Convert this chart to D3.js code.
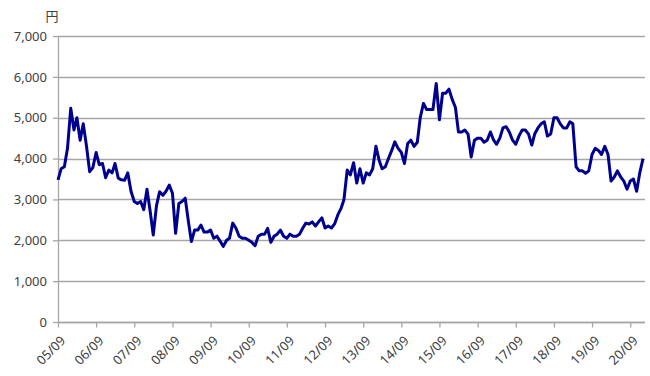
<!DOCTYPE html>
<html>
<head>
<meta charset="utf-8">
<script src="https://cdn.jsdelivr.net/npm/d3@7"></script>
<style>
html,body{margin:0;padding:0;background:#fff;}
svg{display:block;}
text{font-family:"Noto Sans","Open Sans",sans-serif;}
</style>
</head>
<body>
<svg id="chart" width="650" height="376"></svg>
<script>
// Monthly closing prices (円), starting September 2005
const prices = [
  3480,3750,3800,4250,5230,4700,5000,4450,4850,4300,3680,3780,
  4150,3850,3880,3530,3720,3650,3880,3520,3480,3470,3650,3200,
  2950,2900,2950,2750,3250,2700,2130,2850,3190,3100,3200,3350,
  3150,2170,2900,2950,3030,2450,1970,2250,2250,2370,2200,2200,
  2250,2050,2100,1980,1850,2000,2050,2420,2300,2100,2050,2050,
  2000,1950,1870,2100,2150,2150,2290,1950,2100,2150,2250,2100,
  2050,2150,2100,2100,2150,2300,2420,2400,2450,2350,2450,2550,
  2300,2350,2300,2400,2620,2780,3000,3720,3600,3900,3400,3750,
  3400,3650,3600,3750,4300,3950,3750,3800,4000,4200,4410,4250,
  4150,3880,4370,4450,4300,4400,5000,5350,5200,5200,5200,5840,
  4950,5600,5600,5700,5450,5250,4650,4650,4700,4600,4040,4450,
  4500,4500,4400,4450,4650,4450,4350,4500,4750,4780,4650,4450,
  4350,4550,4700,4700,4600,4330,4600,4750,4850,4900,4550,4600,
  5000,5000,4850,4750,4750,4900,4850,3800,3700,3700,3640,3700,
  4100,4250,4200,4100,4300,4100,3450,3550,3700,3550,3450,3250,
  3450,3500,3200,3650,4000
];
const startYear = 2005, startMonth = 8; // September
const dates = prices.map((_, i) => new Date(startYear, startMonth + i, 1));

const xTickYears = [2005,2006,2007,2008,2009,2010,2011,2012,2013,2014,2015,2016,2017,2018,2019,2020];
const xTickLabels = ["05/09","06/09","07/09","08/09","09/09","10/09","11/09","12/09","13/09","14/09","15/09","16/09","17/09","18/09","19/09","20/09"];
const yTicks = [0,1000,2000,3000,4000,5000,6000,7000];
const unitLabel = "円";

(function(){
const svg = d3.select("#chart");
const mLeft = 58, mRight = 645, mTop = 36, mBottom = 322;

const x = d3.scaleTime()
  .domain([new Date(2005,8,1), new Date(2021,0,20)])
  .range([mLeft, mRight]);
const y = d3.scaleLinear().domain([0,7000]).range([mBottom, mTop]);

const gridColor = "#a6a6a6";
const textColor = "#404040";

const yAxis = d3.axisLeft(y).tickValues(yTicks).tickFormat(d3.format(",")).tickSize(5).tickPadding(6);
const gy = svg.append("g").attr("transform", `translate(${mLeft},0)`).call(yAxis);
gy.select(".domain").remove();
gy.selectAll(".tick line").attr("stroke", gridColor).attr("stroke-width", 1.3);
gy.selectAll(".tick text").attr("fill", textColor).style("font-size","13px");

svg.append("g").selectAll("line").data(yTicks).join("line")
  .attr("x1", mLeft).attr("x2", mRight)
  .attr("y1", d => Math.round(y(d)) + 0.5).attr("y2", d => Math.round(y(d)) + 0.5)
  .attr("stroke", gridColor).attr("stroke-width", 1.3);

svg.append("line").attr("x1", mLeft + 0.5).attr("x2", mLeft + 0.5)
  .attr("y1", mTop).attr("y2", mBottom)
  .attr("stroke", gridColor).attr("stroke-width", 1.3);

const tickDates = xTickYears.map(yr => new Date(yr, 8, 1));
const xAxis = d3.axisBottom(x).tickValues(tickDates).tickSize(5).tickFormat((d, i) => xTickLabels[i]);
const gx = svg.append("g").attr("transform", `translate(0,${Math.round(mBottom)+0.5})`).call(xAxis);
gx.select(".domain").attr("stroke", gridColor).attr("stroke-width", 1.3)
  .attr("d", `M${mLeft},0H${mRight}`);
gx.selectAll(".tick line").attr("stroke", gridColor).attr("stroke-width", 1.3);
gx.selectAll(".tick text")
  .attr("fill", textColor).style("font-size","13px")
  .attr("text-anchor", "end")
  .attr("transform", "translate(-1,10) rotate(-45)")
  .attr("x", 0).attr("y", 8).attr("dy", "0.35em");

svg.append("text").attr("x", 52).attr("y", 21).attr("text-anchor","middle")
  .attr("fill", textColor)
  .style("font-family", '"Noto Sans CJK JP",sans-serif').style("font-size","13px")
  .text(unitLabel);

const line = d3.line().x((d, i) => x(dates[i])).y(d => y(d));
svg.append("path").datum(prices)
  .attr("fill","none").attr("stroke","#000090").attr("stroke-width",3)
  .attr("stroke-linejoin","round")
  .attr("d", line);
})();
</script>
</body>
</html>
